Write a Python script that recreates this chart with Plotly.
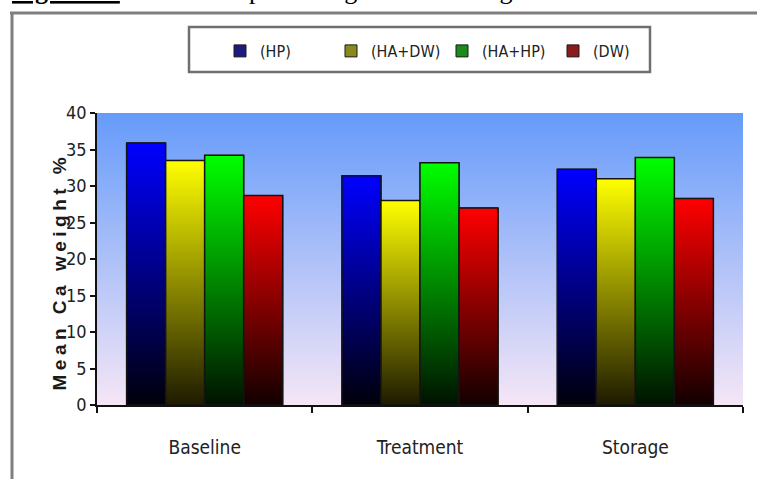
import base64
import struct
import zlib

import plotly.graph_objects as go

# ---------------- data ----------------
categories = ["Baseline", "Treatment", "Storage"]
series_names = ["(HP)", "(HA+DW)", "(HA+HP)", "(DW)"]
hp_values = [35.9, 31.4, 32.3]
ha_dw_values = [33.5, 28.0, 31.0]
ha_hp_values = [34.2, 33.2, 33.9]
dw_values = [28.7, 27.0, 28.3]
y_ticks = [0, 5, 10, 15, 20, 25, 30, 35, 40]

series_values = [hp_values, ha_dw_values, ha_hp_values, dw_values]

# ---------------- styles ----------------
bright = ["#0000ff", "#ffff00", "#00ff00", "#ff0000"]
dark = ["#00000a", "#1e1a00", "#001200", "#120000"]
legend_cols = ["#1c1c80", "#8a8a1c", "#1c8a1c", "#8a1c1c"]
NARROW = ("Liberation Sans Narrow, Arial Narrow, DejaVu Sans Condensed, "
          "Liberation Sans, Arial, sans-serif")

W, H = 757, 479
ML, MR, MT, MB = 97, 14, 113, 74
PW, PH = W - ML - MR, H - MT - MB


def xp(px):
    return (px - ML) / PW


def yp(py):
    return (H - MB - py) / PH


def gradient_png(top, bottom, h=256):
    rows = b""
    for i in range(h):
        t = i / (h - 1)
        c = [round(top[k] + (bottom[k] - top[k]) * t) for k in range(3)]
        rows += b"\x00" + bytes(c)

    def chunk(tag, data):
        return (struct.pack(">I", len(data)) + tag + data
                + struct.pack(">I", zlib.crc32(tag + data) & 0xFFFFFFFF))

    png = b"\x89PNG\r\n\x1a\n"
    png += chunk(b"IHDR", struct.pack(">IIBBBBB", 1, h, 8, 2, 0, 0, 0))
    png += chunk(b"IDAT", zlib.compress(rows))
    png += chunk(b"IEND", b"")
    return "data:image/png;base64," + base64.b64encode(png).decode()


group_width = 0.725
bar_w = group_width / len(series_names)
x_idx = list(range(len(categories)))

fig = go.Figure()

# real bar traces (data + legend)
for i, (name, vals) in enumerate(zip(series_names, series_values)):
    fig.add_trace(go.Bar(
        x=x_idx, y=vals, name=name,
        width=bar_w, offset=-group_width / 2 + i * bar_w,
        marker=dict(color=legend_cols[i], line=dict(color="#1a1a1a", width=1)),
        hovertext=[f"{c}: {v}" for c, v in zip(categories, vals)],
    ))

# gradient fill on top of each bar, same geometry as the bars
for i, vals in enumerate(series_values):
    for j, v in enumerate(vals):
        left = x_idx[j] - group_width / 2 + i * bar_w
        right = left + bar_w
        fig.add_trace(go.Scatter(
            x=[left, left, right, right, left], y=[0, v, v, 0, 0],
            mode="lines", fill="toself",
            line=dict(color="#141414", width=1.5),
            fillgradient=dict(type="vertical", start=0, stop=v,
                              colorscale=[[0, dark[i]], [1, bright[i]]]),
            showlegend=False, hoverinfo="skip",
        ))

fig.update_layout(
    width=W, height=H,
    margin=dict(l=ML, r=MR, t=MT, b=MB, pad=0),
    paper_bgcolor="white",
    plot_bgcolor="rgba(0,0,0,0)",
    barmode="overlay",
    font=dict(family=NARROW, color="#222222"),
    showlegend=True,
    legend=dict(
        orientation="h", x=xp(220), xanchor="left", y=yp(51), yanchor="middle",
        bgcolor="rgba(0,0,0,0)", borderwidth=0, itemwidth=30,
        entrywidth=66, entrywidthmode="pixels",
        font=dict(family=NARROW, size=16, color="#222222"),
        traceorder="normal",
    ),
    xaxis=dict(
        range=[-0.5, 2.5], tickmode="array", tickvals=x_idx, ticktext=categories,
        ticks="", showgrid=False, zeroline=False,
        showline=True, linecolor="#111111", linewidth=1.5,
        tickfont=dict(family=NARROW, size=19, color="#222222"),
        ticklabelstandoff=24,
        minor=dict(tickmode="array", tickvals=[-0.5, 0.5, 1.5, 2.5],
                   ticks="outside", ticklen=6, tickcolor="#111111", tickwidth=1.5,
                   showgrid=False),
    ),
    yaxis=dict(
        range=[0, 40], tickmode="array", tickvals=y_ticks,
        ticks="outside", ticklen=5, tickcolor="#111111", tickwidth=1.5,
        showgrid=False, zeroline=False,
        showline=True, linecolor="#111111", linewidth=1.5,
        tickfont=dict(family=NARROW, size=18, color="#222222"),
    ),
    images=[dict(
        source=gradient_png((102, 155, 250), (245, 230, 246)),
        xref="paper", yref="paper", x=0, y=1, sizex=1, sizey=1,
        sizing="stretch", layer="below", xanchor="left", yanchor="top",
    )],
    shapes=[
        # outer frame (top & left)
        dict(type="line", xref="paper", yref="paper",
             x0=xp(10), x1=xp(760), y0=yp(13), y1=yp(13),
             line=dict(color="#7f7f7f", width=3)),
        dict(type="line", xref="paper", yref="paper",
             x0=xp(12), x1=xp(12), y0=yp(12), y1=yp(482),
             line=dict(color="#7f7f7f", width=3)),
        # legend box
        dict(type="rect", xref="paper", yref="paper", layer="above",
             x0=xp(189), x1=xp(650), y0=yp(72), y1=yp(27),
             line=dict(color="#6f6f6f", width=2.5), fillcolor="white"),
    ],
    annotations=[
        dict(text="<span style='letter-spacing:4.5px'>Mean Ca weight %</span>",
             xref="paper", yref="paper", x=xp(46), y=yp(272),
             textangle=-90, showarrow=False,
             font=dict(family="Liberation Sans, Arial, sans-serif", size=19,
                       color="#1a1a1a", weight="bold")),
        dict(text="<b><span style='text-decoration:underline'>Figure 1 :</span></b>"
                  " Bar chart representing mean Ca weight level of the enamel",
             xref="paper", yref="paper", x=xp(10), y=yp(7),
             xanchor="left", yanchor="bottom", showarrow=False,
             font=dict(family="Liberation Serif, Times New Roman, serif", size=26,
                       color="black")),
    ],
)

fig.write_html("out.html")
